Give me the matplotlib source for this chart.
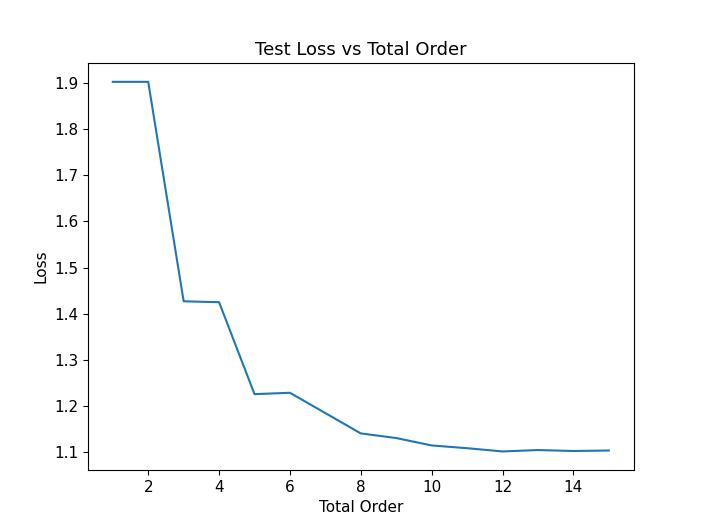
import matplotlib
matplotlib.use("Agg")
import matplotlib.pyplot as plt

orders = list(range(1, 16))
loss = [1.902, 1.902, 1.427, 1.425, 1.226, 1.229, 1.185, 1.141, 1.131, 1.115,
        1.109, 1.102, 1.105, 1.103, 1.104]

fig, ax = plt.subplots(figsize=(7.04, 5.28), dpi=100)
ax.plot(orders, loss)
ax.set_title("Test Loss vs Total Order", fontsize=13)
ax.set_xlabel("Total Order", fontsize=11)
ax.set_ylabel("Loss", fontsize=11)
ax.tick_params(labelsize=11)
fig.savefig("out.png", dpi=100)
